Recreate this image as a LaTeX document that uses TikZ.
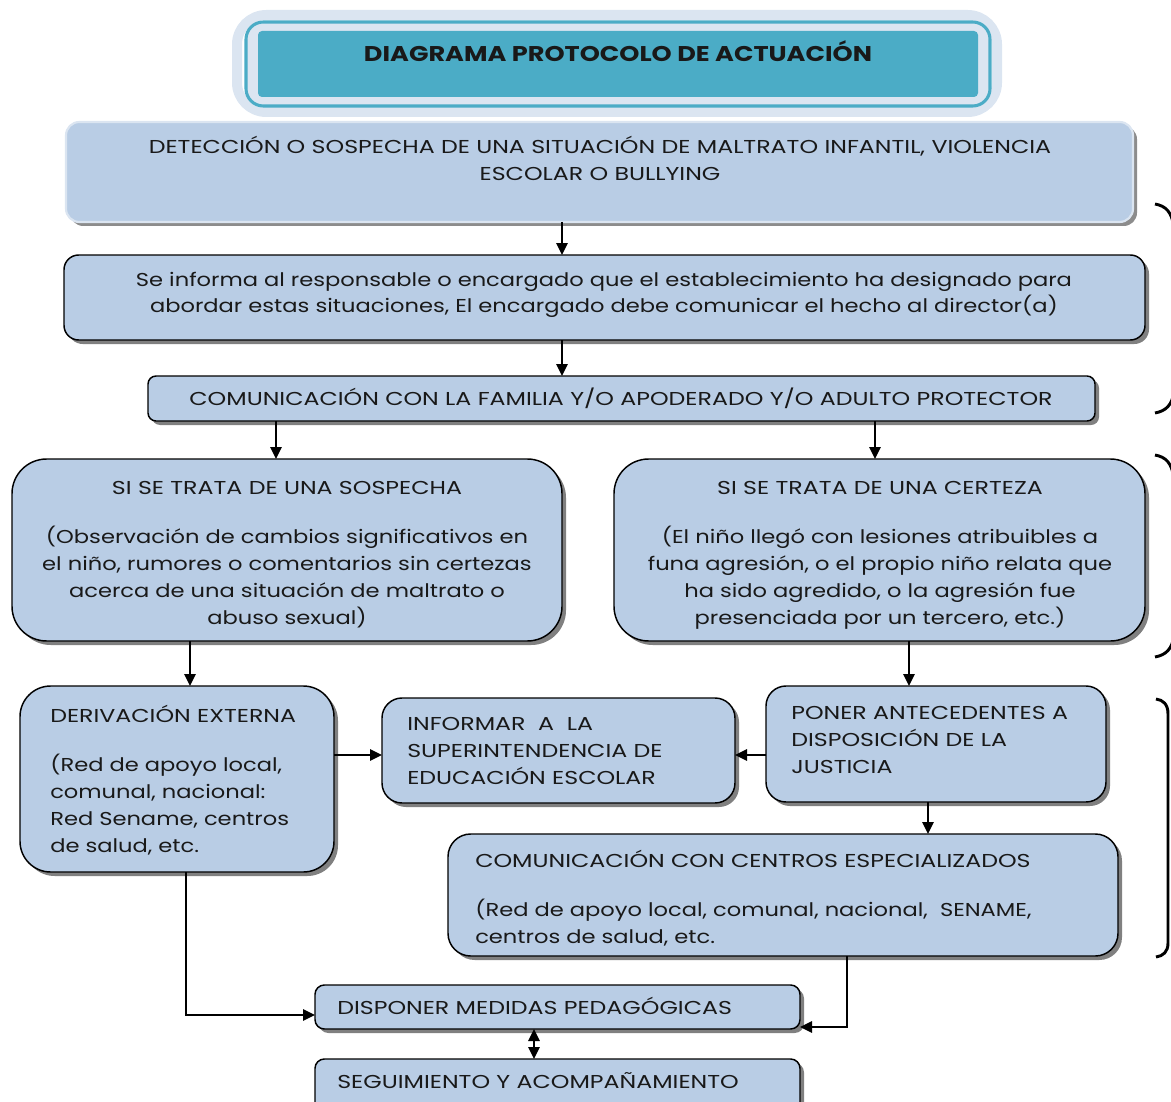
\documentclass[tikz,border=0pt]{standalone}
\usepackage{fontspec}
\setmainfont{Poppins}
\newfontfamily\capf[FakeStretch=1.27]{Poppins}
\newfontfamily\mixf[FakeStretch=1.21]{Poppins}
\newfontfamily\ttlf[FakeStretch=1.2]{Poppins}
\usetikzlibrary{shadows,arrows.meta}
\definecolor{boxfill}{HTML}{B9CDE5}
\definecolor{ttl}{HTML}{4BACC6}
\definecolor{lt}{HTML}{DBE5F1}
\newcommand\bx[7]{\node[#2, rounded corners=#7, minimum width={(#5-#3)*0.75pt}, minimum height={(#6-#4)*0.75pt}] (#1) at ({(#3+#5)/2},{(#4+#6)/2}) {};}
\newcommand\cen[1]{\vtop{\halign{\hfil##\hfil\cr#1\crcr}}}
\newcommand\lft[1]{\vtop{\halign{##\hfil\cr#1\crcr}}}
\newcommand\gap{\cr\noalign{\vskip16.5pt}}
\begin{document}
\begin{tikzpicture}[x=0.75pt,y=-0.75pt,
  box/.style={draw=black, line width=1.1pt, fill=boxfill, inner sep=0pt, outer sep=0pt,
     drop shadow={shadow xshift=3pt, shadow yshift=-3pt, fill=black!50, opacity=1}},
  pale/.style={draw=lt, line width=1.6pt, fill=boxfill, inner sep=0pt, outer sep=0pt,
     drop shadow={shadow xshift=3pt, shadow yshift=-3pt, fill=black!45, opacity=1}},
  txt/.style={inner sep=0pt, font=\fontsize{14}{20.25}\selectfont, text=black!90},
  arr/.style={line width=1.4pt, -{Triangle[length=9pt,width=8.5pt]}},
  darr/.style={line width=1.4pt, {Triangle[length=9pt,width=8.5pt]}-{Triangle[length=9pt,width=8.5pt]}}]
\useasboundingbox (0,0) rectangle (1171,1102);
\begin{scope}
\clip (0,0) rectangle (1171,1102);
% title
\draw[lt, line width=7.5pt, fill=white, rounded corners=22pt] (237,15) rectangle (997,112);
\draw[ttl, line width=2.3pt, fill=lt, rounded corners=13pt] (246,22) rectangle (990,106);
\node[fill=ttl, rounded corners=3pt, inner sep=0pt, minimum width={720*0.75pt}, minimum height={66*0.75pt}] (title) at (618,64) {};
\node[txt, anchor=base, font=\fontsize{16}{20}\selectfont\ttlf\bfseries] (ttitle) at (618,62) {DIAGRAMA PROTOCOLO DE ACTUACIÓN};
% boxes
\bx{det}{pale}{66}{122}{1133}{222}{10pt}
\bx{inf}{box}{64}{255}{1145}{340}{11pt}
\bx{com}{box}{148}{376}{1095}{421}{6pt}
\bx{sos}{box}{12}{459}{562}{641}{26pt}
\bx{cer}{box}{614}{459}{1145}{641}{26pt}
\bx{der}{box}{20}{686}{334}{872}{23pt}
\bx{infm}{box}{382}{698}{735}{803}{15pt}
\bx{pon}{box}{766}{686}{1106}{802}{15pt}
\bx{cen}{box}{448}{834}{1118}{956}{17pt}
\bx{dis}{box}{315}{985}{800}{1029}{7pt}
\bx{seg}{box}{315}{1059}{800}{1115}{7pt}
% texts
\node[txt, anchor=base] (tdet) at (600,154) {\capf\cen{DETECCIÓN O SOSPECHA DE UNA SITUACIÓN DE MALTRATO INFANTIL, VIOLENCIA\cr ESCOLAR O BULLYING}};
\node[txt, anchor=base] (tinf) at (604,286) {\mixf\cen{Se informa al responsable o encargado que el establecimiento ha designado para\cr abordar estas situaciones, El encargado debe comunicar el hecho al director(a)}};
\node[txt, anchor=base] (tcom) at (621,405) {\capf COMUNICACIÓN CON LA FAMILIA Y/O APODERADO Y/O ADULTO PROTECTOR};
\node[txt, anchor=base] (tsos) at (287,494) {\mixf\cen{\capf SI SE TRATA DE UNA SOSPECHA\gap (Observación de cambios significativos en\cr el niño, rumores o comentarios sin certezas\cr acerca de una situación de maltrato o\cr abuso sexual)}};
\node[txt, anchor=base] (tcer) at (880,494) {\mixf\cen{\capf SI SE TRATA DE UNA CERTEZA\gap (El niño llegó con lesiones atribuibles a\cr funa agresión, o el propio niño relata que\cr ha sido agredido, o la agresión fue\cr presenciada por un tercero, etc.)}};
\node[txt, anchor=base west] (tder) at (50,722) {\mixf\lft{\capf DERIVACIÓN EXTERNA\gap (Red de apoyo local,\cr comunal, nacional:\cr Red Sename, centros\cr de salud, etc.}};
\node[txt, anchor=base west] (tinfm) at (407,730) {\capf\lft{INFORMAR\ \ A\ \ LA\cr SUPERINTENDENCIA DE\cr EDUCACIÓN ESCOLAR}};
\node[txt, anchor=base west] (tpon) at (791,719) {\capf\lft{PONER ANTECEDENTES A\cr DISPOSICIÓN DE LA\cr JUSTICIA}};
\node[txt, anchor=base west] (tcen) at (475,867) {\mixf\lft{\capf COMUNICACIÓN CON CENTROS ESPECIALIZADOS\gap (Red de apoyo local, comunal, nacional,\ \ SENAME,\cr centros de salud, etc.}};
\node[txt, anchor=base west] (tdis) at (337,1014) {\capf DISPONER MEDIDAS PEDAGÓGICAS};
\node[txt, anchor=base west] (tseg) at (337,1088) {\capf SEGUIMIENTO Y ACOMPAÑAMIENTO};
% connector x/y references
\coordinate (xa) at (562,0);
\coordinate (xb) at (276,0);
\coordinate (xc) at (875,0);
\coordinate (xd) at (190,0);
\coordinate (xe) at (909,0);
\coordinate (xf) at (928,0);
\coordinate (xg) at (186,0);
\coordinate (xh) at (847,0);
\coordinate (xi) at (534,0);
\coordinate (ya) at (0,755);
\coordinate (yb) at (0,1015);
\coordinate (yc) at (0,1027);
\draw[arr] (det.south -| xa) -- (inf.north -| xa);
\draw[arr] (inf.south -| xa) -- (com.north -| xa);
\draw[arr] (com.south -| xb) -- (sos.north -| xb);
\draw[arr] (com.south -| xc) -- (cer.north -| xc);
\draw[arr] (sos.south -| xd) -- (der.north -| xd);
\draw[arr] (cer.south -| xe) -- (pon.north -| xe);
\draw[arr] (der.east |- ya) -- (infm.west |- ya);
\draw[arr] (pon.west |- ya) -- (infm.east |- ya);
\draw[arr] (pon.south -| xf) -- (cen.north -| xf);
\draw[arr] (der.south -| xg) |- (dis.west |- yb);
\draw[arr] (cen.south -| xh) |- (dis.east |- yc);
\draw[darr] (dis.south -| xi) -- (seg.north -| xi);
% right brackets
\draw[line width=2.2pt] (1155,204) .. controls (1166,206) and (1172,212) .. (1174,228) -- (1174,392) .. controls (1172,405) and (1166,411) .. (1155,413);
\draw[line width=2.2pt] (1155,455) .. controls (1166,457) and (1172,463) .. (1174,479) -- (1174,636) .. controls (1172,649) and (1166,655) .. (1155,657);
\draw[line width=2.2pt] (1156,699) .. controls (1163,700) and (1168,704) .. (1168,714) -- (1168,943) .. controls (1168,952) and (1163,956) .. (1156,957);
\end{scope}
\end{tikzpicture}
\end{document}
